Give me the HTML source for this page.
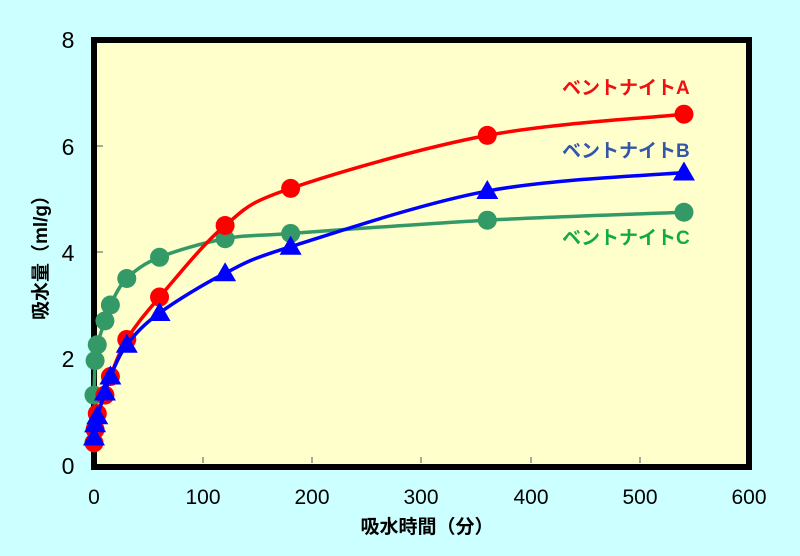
<!DOCTYPE html>
<html><head><meta charset="utf-8"><style>
html,body{margin:0;padding:0;background:#ccffff;}
svg{display:block}
text{font-family:"Liberation Sans","Noto Sans CJK JP",sans-serif;}
</style></head><body>
<svg id="s" width="800" height="556" xmlns="http://www.w3.org/2000/svg">
<rect x="0" y="0" width="800" height="556" fill="#ccffff"/>
<rect x="94" y="40" width="655" height="427" fill="#ffffcc" stroke="#000" stroke-width="6"/>
<g stroke="#555" stroke-width="1">
<line x1="203" y1="463" x2="203" y2="457"/><line x1="312" y1="463" x2="312" y2="457"/>
<line x1="421" y1="463" x2="421" y2="457"/><line x1="531" y1="463" x2="531" y2="457"/>
<line x1="640" y1="463" x2="640" y2="457"/>
<line x1="97" y1="358" x2="103" y2="358"/><line x1="97" y1="252" x2="103" y2="252"/>
<line x1="97" y1="146" x2="103" y2="146"/>
</g>
<g font-size="21" fill="#000" text-anchor="middle">
<text x="94" y="504">0</text><text x="203" y="504">100</text><text x="312" y="504">200</text>
<text x="421" y="504">300</text><text x="531" y="504">400</text><text x="640" y="504">500</text><text x="749" y="504">600</text>
</g>
<g font-size="23" fill="#000" text-anchor="middle">
<text x="68" y="474">0</text><text x="68" y="367">2</text><text x="68" y="261">4</text>
<text x="68" y="155">6</text><text x="68" y="48">8</text>
</g>
<text x="427" y="533" font-size="19" font-weight="bold" text-anchor="middle">吸水時間（分）</text>
<text transform="translate(47,253) rotate(-90)" font-size="19" font-weight="bold" text-anchor="middle">吸水量（ml/g）</text>
<g font-size="19" font-weight="bold">
<text x="562" y="94" fill="#ee1111">ベントナイトA</text>
<text x="562" y="157" fill="#3355aa">ベントナイトB</text>
<text x="562" y="244" fill="#11aa44">ベントナイトC</text>
</g>
<g id="d"></g>
</svg>
<script>
var X=function(t){return 94+t*1.0925},Y=function(v){return 464-v*53};
var A=[[0,0.4],[1,0.65],[3,0.95],[10,1.3],[15,1.65],[30,2.35],[60,3.15],[120,4.5],[180,5.2],[360,6.2],[540,6.6]];
var B=[[0,0.5],[1,0.75],[3,0.9],[10,1.35],[15,1.65],[30,2.25],[60,2.85],[120,3.6],[180,4.1],[360,5.15],[540,5.5]];
var C=[[0,1.3],[1,1.95],[3,2.25],[10,2.7],[15,3.0],[30,3.5],[60,3.9],[120,4.25],[180,4.35],[360,4.6],[540,4.75]];
function path(d){var p=d.map(function(a){return[X(a[0]),Y(a[1])]});var s="M"+p[0];
for(var i=0;i<p.length-1;i++){var p0=p[i-1]||p[i],p1=p[i],p2=p[i+1],p3=p[i+2]||p2,t=6;
s+="C"+(p1[0]+(p2[0]-p0[0])/t)+","+(p1[1]+(p2[1]-p0[1])/t)+" "+(p2[0]-(p3[0]-p1[0])/t)+","+(p2[1]-(p3[1]-p1[1])/t)+" "+p2[0]+","+p2[1];}return s;}
var g=document.getElementById("d"),h="";
function ser(d,c,tri){h+='<path d="'+path(d)+'" fill="none" stroke="'+c+'" stroke-width="3.5"/>';
d.forEach(function(a){var x=X(a[0]),y=Y(a[1]);if(tri)h+='<polygon points="'+x+','+(y-11)+' '+(x-11)+','+(y+8)+' '+(x+11)+','+(y+8)+'" fill="'+c+'"/>';else h+='<circle cx="'+x+'" cy="'+y+'" r="9.5" fill="'+c+'"/>';});}
ser(C,"#339966",0);ser(A,"#ff0000",0);ser(B,"#0000ff",1);
g.innerHTML=h;
</script>
</body></html>
